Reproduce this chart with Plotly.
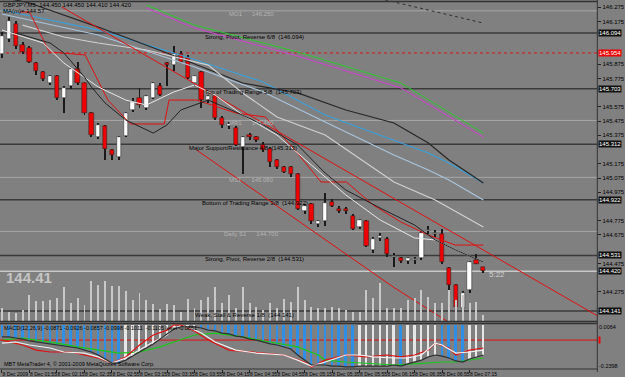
import plotly.graph_objects as go

W, H = 625, 377

# ---------------- data ----------------
idx = list(range(71))
open_ = [145.95,146.05,146.16,146.01,145.99,145.88,145.82,145.74,145.79,145.64,
         145.72,145.84,145.74,145.53,145.36,145.44,145.27,145.22,145.37,145.55,
         145.64,145.57,145.64,145.72,145.88,145.87,145.95,145.92,145.74,145.82,
         145.62,145.65,145.50,145.44,145.43,145.29,145.38,145.36,145.31,145.28,
         145.20,145.15,145.15,145.10,144.84,144.89,144.75,144.77,144.91,144.86,
         144.86,144.81,144.73,144.77,144.57,144.655,144.65,144.52,144.51,144.49,
         144.50,144.51,144.705,144.685,144.68,144.44,144.32,144.16,144.29,144.50,144.45]
high = [146.10,146.21,146.18,146.03,146.00,145.89,145.83,145.80,145.80,145.72,
        145.85,145.89,145.75,145.54,145.46,145.45,145.28,145.37,145.54,145.64,
        145.71,145.66,145.75,145.74,145.89,146.00,145.97,145.94,145.80,145.83,
        145.66,145.66,145.51,145.47,145.44,145.37,145.39,145.37,145.33,145.29,
        145.21,145.16,145.16,145.11,144.89,144.90,144.78,144.97,144.93,144.88,
        144.87,144.82,144.79,144.78,144.66,144.69,144.66,144.55,144.52,144.52,
        144.52,144.70,144.74,144.71,144.72,144.45,144.33,144.28,144.49,144.54,144.45]
low = [145.92,146.03,145.98,145.95,145.88,145.80,145.76,145.73,145.62,145.53,
       145.70,145.73,145.52,145.36,145.35,145.20,145.20,145.20,145.36,145.54,
       145.57,145.55,145.63,145.65,145.72,145.83,145.88,145.77,145.72,145.57,
       145.60,145.48,145.43,145.42,145.30,145.10,145.34,145.33,145.26,145.15,
       145.14,145.11,145.08,144.85,144.82,144.75,144.73,144.74,144.87,144.83,
       144.82,144.71,144.72,144.59,144.55,144.63,144.52,144.45,144.48,144.47,
       144.47,144.50,144.68,144.66,144.47,144.24,144.15,144.13,144.27,144.47,144.41]
close = [146.07,146.18,146.00,145.96,145.89,145.83,145.77,145.79,145.64,145.71,
         145.84,145.74,145.53,145.38,145.45,145.28,145.24,145.36,145.53,145.61,
         145.59,145.65,145.74,145.66,145.87,145.95,145.89,145.78,145.79,145.62,
         145.65,145.50,145.45,145.455,145.31,145.36,145.36,145.34,145.27,145.19,
         145.15,145.12,145.10,144.86,144.88,144.77,144.77,144.90,144.88,144.84,
         144.84,144.72,144.78,144.60,144.65,144.665,144.54,144.525,144.49,144.51,
         144.505,144.69,144.71,144.69,144.485,144.32,144.17,144.27,144.485,144.47,144.42]
volume = [78,54,48,66,156,120,120,126,138,204,108,138,96,240,216,240,210,210,180,126,
          168,126,102,72,102,96,54,132,78,126,144,204,108,156,78,204,108,84,66,108,
          78,132,114,204,126,84,78,78,84,78,66,54,54,186,138,228,78,78,78,126,
          138,186,144,108,108,186,126,156,108,114,36]
macd = [-0.068,-0.068,-0.074,-0.080,-0.091,-0.097,-0.103,-0.108,-0.114,-0.120,
        -0.125,-0.131,-0.143,-0.154,-0.171,-0.194,-0.217,-0.217,-0.200,-0.177,
        -0.154,-0.131,-0.108,-0.080,-0.051,-0.023,-0.011,-0.011,-0.011,-0.017,
        -0.029,-0.034,-0.046,-0.051,-0.063,-0.068,-0.080,-0.086,-0.097,-0.108,
        -0.114,-0.125,-0.137,-0.171,-0.200,-0.228,-0.228,-0.228,-0.234,-0.234,
        -0.239,-0.239,-0.234,-0.234,-0.234,-0.234,-0.234,-0.228,-0.234,-0.222,
        -0.211,-0.200,-0.182,-0.171,-0.177,-0.188,-0.205,-0.211,-0.194,-0.182,-0.171]

sig_white_x = [0,2,4,7,9,12,14,16,18,20,22,24,25,27,29,31,34,37,41,43,45,47,50,52,54,57,59,61,63,64,66,68,70]
sig_white_y = [-0.103,-0.097,-0.114,-0.131,-0.154,-0.160,-0.182,-0.217,-0.188,-0.143,-0.097,-0.057,-0.011,-0.011,-0.046,
               -0.097,-0.143,-0.160,-0.171,-0.200,-0.234,-0.211,-0.171,-0.171,-0.182,-0.188,-0.188,-0.171,-0.103,-0.114,-0.160,-0.154,-0.143]
sig_red_x = [0,3,5,7,10,12,14,16,18,20,22,24,25,26,28,30,33,38,41,44,45,47,50,53,56,58,60,62,63,65,66,68,70]
sig_red_y = [-0.086,-0.114,-0.143,-0.154,-0.154,-0.171,-0.188,-0.217,-0.182,-0.114,-0.057,-0.029,0.000,0.000,-0.034,-0.086,
             -0.143,-0.160,-0.171,-0.211,-0.239,-0.200,-0.171,-0.182,-0.171,-0.182,-0.171,-0.143,-0.103,-0.131,-0.171,-0.143,-0.131]
sig_green_x = [0,3,5,8,11,14,17,20,23,25,28,31,35,39,43,46,47,50,53,57,60,62,64,66,68,70]
sig_green_y = [-0.086,-0.074,-0.086,-0.103,-0.125,-0.143,-0.160,-0.154,-0.125,-0.097,-0.057,-0.046,-0.068,-0.097,-0.125,
               -0.171,-0.200,-0.211,-0.217,-0.228,-0.222,-0.217,-0.211,-0.211,-0.200,-0.188]
macd_level = -0.086

# moving-average style lines on the price chart (index, price)
ma_black_x = [0,4,14,24,35,43,50,57,62,65,70]
ma_black_y = [146.347,146.305,146.136,145.954,145.743,145.673,145.553,145.462,145.321,145.202,145.040]
ma_blue_x = [0,14,25,38,47,57,62,65,70]
ma_blue_y = [146.256,146.115,145.954,145.750,145.518,145.342,145.251,145.181,145.040]
ma_lblue_x = [0,14,28,38,47,57,62,65,70]
ma_lblue_y = [146.228,146.080,145.855,145.680,145.469,145.237,145.131,145.061,144.921]
ma_grey_x = [3,9,14,21,30,35,40,47,57,63,70]
ma_grey_y = [146.150,146.066,146.024,145.975,145.869,145.673,145.504,145.377,145.047,144.921,144.731]
ma_fast_x = [2,7,9,12,13,15,18,22,24,26,30,34,38,43,47,50,55,60,63,66,70]
ma_fast_y = [146.094,146.024,145.954,145.785,145.715,145.602,145.483,145.391,145.448,145.553,145.623,145.539,
             145.448,145.307,145.110,144.991,144.864,144.745,144.640,144.569,144.485]
ma_white_x = [0,6,9,14,18,21,25,28,31,35,40,45,50,55,60,63,66,70]
ma_white_y = [146.115,146.024,145.883,145.715,145.623,145.588,145.680,145.729,145.658,145.518,145.377,145.167,
              144.956,144.780,144.654,144.640,144.569,144.485]
ma_green_x = [21,28,43,58,70]
ma_green_y = [146.291,146.150,145.961,145.743,145.391]
ma_magenta_x = [21,28,43,58,70]
ma_magenta_y = [146.270,146.129,145.932,145.708,145.363]
ma_dot_x = [54,70]
ma_dot_y = [146.347,146.164]
step_red_x = [2.6,4.0,6.9,12.1,15.4,18.7,23.6,24.3,28.3,34.0,38.3,42.6,46.4,50.1,54.0,58.0,62.0,65.9,70.0]
step_red_y = [146.242,146.242,145.961,145.940,145.623,145.455,145.455,145.623,145.623,145.532,145.504,145.272,
              145.047,145.047,144.885,144.766,144.675,144.604,144.604]
chan1_x = [8.7,86.9]
chan1_y = [146.277,144.098]
chan2_x = [28.3,56.9,64.7]
chan2_y = [145.272,144.309,144.070]

murrey = [146.09375,145.703125,145.3125,144.921875,144.53125,144.140625]
murrey_text = ["Strong, Pivot, Reverse 6/8  (146.094)",
               "Top of Trading Range 5/8  (145.703)",
               "Major Support/Resistance 4/8  (145.313)",
               "Bottom of Trading Range 3/8  (144.922)",
               "Strong, Pivot, Reverse 2/8  (144.531)",
               "Weak, Stall & Reverse 1/8  (144.141)"]
pivots = [146.250,145.480,145.080,144.700]
pivot_text = ["MO1      146.250", "MR1      145.480", "MS1      145.080", "Daily S1      144.700"]
red_level = 145.954
last_price = 144.42

price_ticks = [146.275,146.175,145.875,145.775,145.575,145.475,145.375,
               145.175,145.075,144.975,144.775,144.675,144.475,144.275]
time_ticks = [0,4,8,12,16,20,24,28,32,36,40,44,48,52,56,60,64,68]
time_labels = ["8 Dec 2009","8 Dec 01:55","8 Dec 02:15","8 Dec 02:35","8 Dec 02:55","8 Dec 03:15",
               "8 Dec 03:35","8 Dec 03:55","8 Dec 04:15","8 Dec 04:35","8 Dec 04:55","8 Dec 05:15",
               "8 Dec 05:35","8 Dec 05:55","8 Dec 06:15","8 Dec 06:35","8 Dec 06:55","8 Dec 07:15"]

# ---------------- layout geometry (pixels) ----------------
PLOT_R = 608
MAIN_TOP, MAIN_BOT = 0, 321
SUB_TOP, SUB_BOT = 324, 369
def fy(py):
    return 1 - py / H
def fx(px):
    return px / W

BG = "#808080"
fig = go.Figure()

# volumes (overlay axis on main panel)
fig.add_trace(go.Bar(x=idx, y=volume, width=0.14, marker=dict(color="#c8c8c8", line=dict(width=0)),
                     yaxis="y3", hoverinfo="skip"))

# MACD histogram: blue while falling, white while rising
hist_col = []
prev = None
for v in macd:
    if prev is None or v < prev:
        hist_col.append("#2f8fe6")
    elif v > prev:
        hist_col.append("#e6e6e6")
    else:
        hist_col.append(hist_col[-1])
    prev = v
fig.add_trace(go.Bar(x=idx, y=macd, width=0.28, marker=dict(color=hist_col, line=dict(width=0)),
                     yaxis="y2", hoverinfo="skip"))

def line(x, y, color, width=1, dash="solid", axis="y"):
    fig.add_trace(go.Scatter(x=x, y=y, mode="lines", yaxis=axis, hoverinfo="skip",
                             line=dict(color=color, width=width, dash=dash)))

line(sig_green_x, sig_green_y, "#19c819", 1.2, axis="y2")
line(sig_red_x, sig_red_y, "#e01010", 1.2, axis="y2")
line(sig_white_x, sig_white_y, "#f0f0f0", 1.2, axis="y2")
line(idx, macd, "#303030", 1.2, axis="y2")

line(ma_dot_x, ma_dot_y, "#303030", 1, "dot")
line(ma_green_x, ma_green_y, "#2ec82e", 1)
line(ma_magenta_x, ma_magenta_y, "#d040d0", 1)
line(ma_lblue_x, ma_lblue_y, "#a8c4dc", 1.2)
line(ma_blue_x, ma_blue_y, "#3aa0d8", 1.2)
line(ma_black_x, ma_black_y, "#262626", 1.2)
line(ma_grey_x, ma_grey_y, "#d0d0d0", 1.2)
line(chan1_x, chan1_y, "#e01010", 1)
line(chan2_x, chan2_y, "#e01010", 1)
line(step_red_x, step_red_y, "#e01010", 1)
line(ma_white_x, ma_white_y, "#e8e8e8", 1)
line(ma_fast_x, ma_fast_y, "#222222", 1)

# candles: wicks then bodies
fig.add_trace(go.Bar(x=idx, y=[h - l for h, l in zip(high, low)], base=low, width=0.14,
                     marker=dict(color="#1a1a1a", line=dict(width=0)), hoverinfo="skip"))
body_base = [min(o, c) for o, c in zip(open_, close)]
body_h = [max(abs(c - o), 0.006) for o, c in zip(open_, close)]
body_col = ["#ffffff" if c >= o else "#ee0000" for o, c in zip(open_, close)]
fig.add_trace(go.Bar(x=idx, y=body_h, base=body_base, width=0.62,
                     marker=dict(color=body_col, line=dict(color="#202020", width=0.5)), hoverinfo="skip"))

shapes = []
for lv in murrey:
    shapes.append(dict(type="line", xref="x domain", yref="y", x0=0, x1=1, y0=lv, y1=lv,
                       line=dict(color="#3a3a3a", width=1.5), layer="below"))
for lv in pivots:
    shapes.append(dict(type="line", xref="x domain", yref="y", x0=0, x1=1, y0=lv, y1=lv,
                       line=dict(color="#a6a6a6", width=1), layer="below"))
shapes.append(dict(type="line", xref="x domain", yref="y", x0=0, x1=1, y0=red_level, y1=red_level,
                   line=dict(color="#e01010", width=1, dash="dot"), layer="below"))
shapes.append(dict(type="line", xref="x domain", yref="y", x0=0, x1=1, y0=last_price, y1=last_price,
                   line=dict(color="#c8c8c8", width=1.5), layer="below"))
shapes.append(dict(type="line", xref="x domain", yref="y2", x0=0, x1=1, y0=macd_level, y1=macd_level,
                   line=dict(color="#e01010", width=1), layer="below"))
# panel separators
for py, w in [(1.5, 1.5), (321.5, 1.5), (323.5, 1.5), (369, 1)]:
    shapes.append(dict(type="line", xref="paper", yref="paper", x0=0, x1=fx(PLOT_R), y0=fy(py), y1=fy(py),
                       line=dict(color="#333333", width=w)))
shapes.append(dict(type="line", xref="paper", yref="paper", x0=fx(PLOT_R), x1=fx(PLOT_R), y0=fy(372), y1=1,
                   line=dict(color="#333333", width=1)))

ann = []
def text(px, py, s, size=6.5, color="#000000", anchor="left", bg=None, bold=False, fam="Liberation Sans"):
    ann.append(dict(xref="paper", yref="paper", x=fx(px), y=fy(py), text=("<b>%s</b>" % s) if bold else s,
                    showarrow=False, xanchor=anchor, yanchor="middle",
                    font=dict(size=size, color=color, family=fam), bgcolor=bg, borderpad=0))

text(2, 5, "GBPJPY,M5  144.450 144.450 144.410 144.420", 6)
text(2, 11, "MA(m)= 144.57", 6)
mx = [208, 208, 191, 205, 208, 197]
for lv, s, x0 in zip(murrey, murrey_text, mx):
    py = (146.32616 - lv) * 142.3
    text(x0, py + 3.5, s, 6)
px_piv = [232, 232, 232, 227]
for lv, s, x0 in zip(pivots, pivot_text, px_piv):
    py = (146.32616 - lv) * 142.3
    text(x0, py + 3, s, 6, "#b4b4b4")
text(5, 277, "144.41", 15, "#c4c4c4", bold=True)
text(497, 274, "5:22", 8, "#d0d0d0")
text(3, 328, "MACD(12,26,9) -0.0871 -0.0926 -0.0857 -0.0998 -0.1011  -0.1105 level -0.0861", 5.5)
text(3, 364, "MBT MetaTrader 4, \u00a9 2001-2009 MetaQuotes Software Corp.", 5.5)

# right-axis boxes for line levels
for lv in murrey:
    py = (146.32616 - lv) * 142.3
    text(609, py, "%.3f" % lv, 6, "#ffffff", bg="#111111")
text(609, (146.32616 - red_level) * 142.3, "%.3f" % red_level, 6, "#ffffff", bg="#ee0000")
text(609, (146.32616 - last_price) * 142.3, "%.3f" % last_price, 6, "#ffffff", bg="#111111")
text(609, 327, "0.0064", 5.5)
text(609, 366, "-0.2398", 5.5)
text(609, 340, " ", 5, bg="#ee0000")

fig.update_layout(
    width=W, height=H, margin=dict(l=0, r=0, t=0, b=0),
    paper_bgcolor=BG, plot_bgcolor=BG, showlegend=False, barmode="overlay",
    bargap=0,
    xaxis=dict(domain=[0, fx(PLOT_R)], range=[-2/7, (PLOT_R - 2)/7], anchor="y2",
               tickvals=time_ticks, ticktext=time_labels, ticks="outside", ticklen=3, tickcolor="#222",
               tickangle=0, tickfont=dict(size=5, color="#000", family="Liberation Sans"),
               ticklabelposition="outside right", showgrid=False, zeroline=False, showline=False),
    yaxis=dict(domain=[fy(MAIN_BOT), fy(MAIN_TOP)], range=[144.07035, 146.32616], side="right",
               tickvals=price_ticks, ticktext=["%.3f" % t for t in price_ticks], ticks="outside", ticklen=3,
               tickcolor="#222", tickfont=dict(size=6, color="#000", family="Liberation Sans"),
               showgrid=False, zeroline=False, showline=False),
    yaxis2=dict(domain=[fy(SUB_BOT), fy(SUB_TOP)], range=[-0.2508, 0.0057], side="right",
                showticklabels=False, ticks="", showgrid=False, zeroline=False, showline=False),
    yaxis3=dict(overlaying="y", range=[0, 1926], visible=False),
    shapes=shapes, annotations=ann,
)
fig.write_html("out.html")
